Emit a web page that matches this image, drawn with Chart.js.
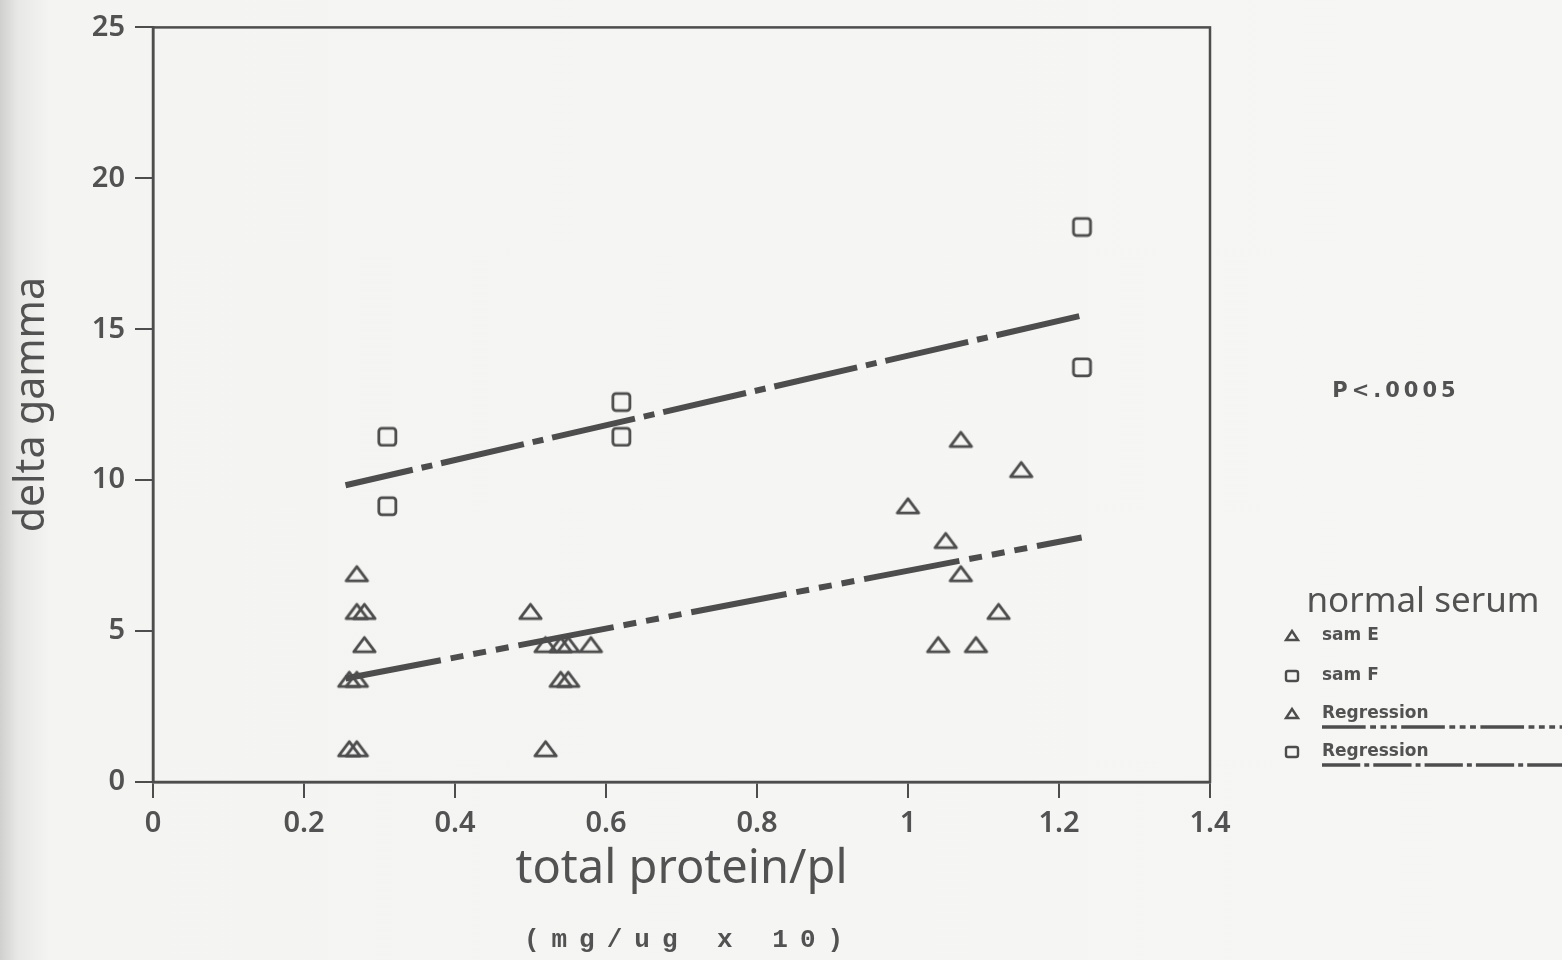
<!DOCTYPE html>
<html>
<head>
<meta charset="utf-8">
<script src="https://cdn.jsdelivr.net/npm/chart.js@4.4.0/dist/chart.umd.min.js"></script>
<style>
  html, body { margin: 0; padding: 0; }
  body {
    width: 1562px; height: 960px; overflow: hidden;
    background: linear-gradient(to right, #d0d0ce 0px, #e8e8e6 18px, #f4f4f2 50px, #f6f6f4 100%);
  }
  #wrap { position: relative; width: 1562px; height: 960px; }
</style>
</head>
<body>
<div id="wrap"><canvas id="chart" width="1562" height="960"></canvas></div>
<script>
// sam E (triangles)
const samEx = [0.27, 0.27, 0.28, 0.28, 0.26, 0.27, 0.26, 0.27,
               0.50, 0.52, 0.54, 0.55, 0.58, 0.54, 0.55, 0.52,
               1.00, 1.07, 1.15, 1.05, 1.07, 1.12, 1.04, 1.09];
const samEy = [6.9, 5.65, 5.65, 4.55, 3.4, 3.4, 1.1, 1.1,
               5.65, 4.55, 4.55, 4.55, 4.55, 3.4, 3.4, 1.1,
               9.15, 11.35, 10.35, 8.0, 6.9, 5.65, 4.55, 4.55];

// sam F (squares)
const samFx = [0.31, 0.31, 0.62, 0.62, 1.23, 1.23];
const samFy = [11.45, 9.15, 12.6, 11.45, 18.4, 13.75];

// regression lines (end points)
const regEx = [0.255, 1.23];
const regEy = [3.43, 8.1];
const regFx = [0.255, 1.23];
const regFy = [9.83, 15.45];

const xTicks = [0, 0.2, 0.4, 0.6, 0.8, 1, 1.2, 1.4];
const yTicks = [0, 5, 10, 15, 20, 25];

const ink = '#4d4d4d';
const textInk = '#525252';

const toPts = (xs, ys) => xs.map((x, i) => ({ x: x, y: ys[i] }));

// flat open triangle / rounded square markers
function markerTri(w, h, lw) {
    const c = document.createElement('canvas');
    c.width = w + lw * 2; c.height = h + lw * 2;
    const g = c.getContext('2d');
    g.strokeStyle = ink; g.lineWidth = lw; g.lineJoin = 'round';
    g.beginPath();
    g.moveTo(c.width / 2, lw);
    g.lineTo(c.width - lw, c.height - lw);
    g.lineTo(lw, c.height - lw);
    g.closePath();
    g.stroke();
    return c;
}
function markerSq(s, lw) {
    const c = document.createElement('canvas');
    c.width = s + lw * 2; c.height = s + lw * 2;
    const g = c.getContext('2d');
    g.strokeStyle = ink; g.lineWidth = lw;
    g.beginPath();
    g.roundRect(lw, lw, s, s, 3);
    g.stroke();
    return c;
}
const triImg = markerTri(22, 15, 2.8);
const sqImg = markerSq(17, 2.8);

// frame, legend and extra text
const extras = {
    id: 'extras',
    afterDraw(chart) {
        const ctx = chart.ctx;
        const a = chart.chartArea;
        ctx.save();
        // box round plot area
        ctx.strokeStyle = ink;
        ctx.lineWidth = 2.5;
        ctx.strokeRect(a.left, a.top, a.right - a.left, a.bottom - a.top);

        // units under axis title
        ctx.fillStyle = textInk;
        ctx.font = 'bold 26px "Liberation Mono"';
        ctx.textAlign = 'center';
        ctx.textBaseline = 'middle';
        ctx.letterSpacing = '12px';
        ctx.fillText('(mg/ug x 10)', (a.left + a.right) / 2 + 8, 940);

        // P value
        ctx.letterSpacing = '4px';
        ctx.font = 'bold 21px "DejaVu Sans"';
        ctx.fillText('P<.0005', 1396, 392);
        ctx.letterSpacing = '0px';

        // legend
        ctx.font = '35px "Noto Sans"';
        ctx.fillText('normal serum', 1423, 602);

        const ds = chart.data.datasets;
        const rows = [
            { y: 636, text: 'sam E', style: 'triangle', dash: null },
            { y: 676, text: 'sam F', style: 'rect', dash: null },
            { y: 714, text: 'Regression', style: 'triangle', dash: ds[2].borderDash },
            { y: 752, text: 'Regression', style: 'rect', dash: ds[3].borderDash }
        ];
        ctx.textAlign = 'left';
        ctx.font = 'bold 17px "DejaVu Sans"';
        rows.forEach(r => {
            ctx.strokeStyle = ink;
            ctx.lineWidth = 2.4;
            ctx.setLineDash([]);
            ctx.beginPath();
            if (r.style === 'triangle') {
                ctx.moveTo(1292, r.y - 5);
                ctx.lineTo(1298, r.y + 4);
                ctx.lineTo(1286, r.y + 4);
                ctx.closePath();
            } else {
                ctx.roundRect(1286, r.y - 5, 12, 10, 2);
            }
            ctx.stroke();
            ctx.fillStyle = textInk;
            ctx.fillText(r.text, 1322, r.y);
            if (r.dash) {
                ctx.lineWidth = 3.5;
                ctx.setLineDash(r.dash.map(d => d * 0.45));
                ctx.beginPath();
                ctx.moveTo(1322, r.y + 13);
                ctx.lineTo(1562, r.y + 13);
                ctx.stroke();
            }
        });
        ctx.restore();
    }
};

new Chart(document.getElementById('chart'), {
    type: 'scatter',
    data: {
        datasets: [
            {
                label: 'sam E',
                data: toPts(samEx, samEy),
                pointStyle: triImg,
                borderColor: ink,
                backgroundColor: 'rgba(0,0,0,0)'
            },
            {
                label: 'sam F',
                data: toPts(samFx, samFy),
                pointStyle: sqImg,
                borderColor: ink,
                backgroundColor: 'rgba(0,0,0,0)'
            },
            {
                label: 'Regression E',
                data: toPts(regEx, regEy),
                showLine: true,
                pointRadius: 0,
                borderWidth: 6,
                borderColor: ink,
                borderDash: [97, 10, 13, 10, 13, 10, 13, 10],
                borderCapStyle: 'butt'
            },
            {
                label: 'Regression F',
                data: toPts(regFx, regFy),
                showLine: true,
                pointRadius: 0,
                borderWidth: 6,
                borderColor: ink,
                borderDash: [85, 9, 11, 9],
                borderDashOffset: 16,
                borderCapStyle: 'butt'
            }
        ]
    },
    options: {
        responsive: false,
        animation: false,
        layout: { padding: { top: 25, right: 352, bottom: 0, left: 0 } },
        plugins: {
            legend: { display: false },
            tooltip: { enabled: false }
        },
        scales: {
            x: {
                type: 'linear',
                min: 0,
                max: 1.4,
                afterBuildTicks: (s) => { s.ticks = xTicks.map(v => ({ value: v })); },
                afterFit: (s) => { s.height = 178; },
                grid: { drawOnChartArea: false, drawTicks: true, tickLength: 16, color: ink, lineWidth: 2 },
                border: { display: true, color: ink, width: 2.5 },
                ticks: {
                    color: textInk,
                    padding: 8,
                    font: { family: 'Noto Sans', size: 29, weight: '600' },
                    callback: (v) => String(Math.round(v * 10) / 10)
                },
                title: {
                    display: true,
                    text: 'total protein/pl',
                    color: textInk,
                    font: { family: 'Noto Sans', size: 47 },
                    padding: { top: 0, bottom: 62 }
                }
            },
            y: {
                type: 'linear',
                min: 0,
                max: 25,
                afterBuildTicks: (s) => { s.ticks = yTicks.map(v => ({ value: v })); },
                afterFit: (s) => { s.width = 153; },
                grid: { drawOnChartArea: false, drawTicks: true, tickLength: 18, color: ink, lineWidth: 2 },
                border: { display: true, color: ink, width: 2.5 },
                ticks: {
                    color: textInk,
                    padding: 10,
                    font: { family: 'Noto Sans', size: 29, weight: '600' }
                },
                title: {
                    display: true,
                    text: 'delta gamma',
                    color: textInk,
                    font: { family: 'Noto Sans', size: 41 },
                    padding: { top: 8, bottom: 0 }
                }
            }
        }
    },
    plugins: [extras]
});
</script>
</body>
</html>
